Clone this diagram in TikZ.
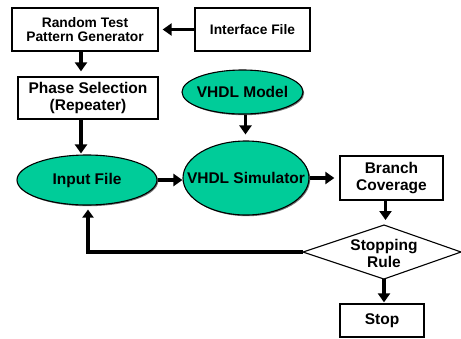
\documentclass[tikz,border=0pt]{standalone}
\usepackage{fontspec}
\setmainfont{Liberation Sans}
\usetikzlibrary{arrows.meta,shapes.geometric,calc,shadows}
\definecolor{teal1}{RGB}{0,204,153}
\begin{document}
\begin{tikzpicture}[x=1pt,y=-1pt,
  shd/.style={drop shadow={shadow xshift=1.2pt,shadow yshift=-1.2pt,fill=black!55,opacity=1}},
  box/.style={draw=black,line width=1.3pt,fill=white,rectangle,inner sep=0pt,align=center,shd,font=\bfseries\fontsize{15.5}{17}\selectfont},
  smallbox/.style={box,font=\bfseries\fontsize{13.8}{14.5}\selectfont},
  oval/.style={draw=black,line width=1.1pt,fill=teal1,ellipse,inner sep=0pt,shd},
  lbl/.style={align=center,inner sep=0pt,font=\bfseries\fontsize{15.5}{17}\selectfont},
  flow/.style={line width=3.8pt,-{Triangle[width=12pt,length=9pt]}},
]
\useasboundingbox (0,0) rectangle (461,338);
\node[smallbox,minimum width=146pt,minimum height=43pt] (rtp) at (85,29.5) {Random Test\\Pattern Generator};
\node[smallbox,minimum width=115pt,minimum height=43pt] (intf) at (252.5,29.5) {Interface File};
\node[box,minimum width=140pt,minimum height=42pt] (phase) at (88,98) {Phase Selection\\(Repeater)};
\node[oval,minimum width=121pt,minimum height=44pt,label={[lbl]center:VHDL Model}] (vmodel) at (242.5,92) {};
\node[oval,minimum width=140pt,minimum height=50pt,label={[lbl]center:Input File}] (input) at (87,180) {};
\node[oval,minimum width=126pt,minimum height=74pt,label={[lbl]center:VHDL Simulator}] (sim) at (246,178) {};
\node[box,minimum width=103pt,minimum height=44pt] (branch) at (391.5,178) {Branch\\Coverage};
\node[box,minimum width=84pt,minimum height=33pt] (stop) at (382,320.5) {Stop};
\coordinate (dl) at (303,252);
\coordinate (dt) at (384,225);
\coordinate (dr) at (461,252);
\coordinate (db) at (384,279);
\draw[line width=1.1pt,fill=white] (dl) -- (dt) -- (dr) -- (db) -- cycle;
\node[lbl] (rule) at (384,253) {Stopping\\Rule};
\draw[flow,shorten >=4pt] (intf.west) -- (intf.west -| rtp.east);
\draw[flow,shorten >=5pt] ([xshift=-4pt]rtp.south) -- ([xshift=-4pt]rtp.south |- phase.north);
\draw[flow,shorten >=1pt] ([xshift=-7pt]phase.south) -- ([xshift=-7pt]phase.south |- input.north);
\draw[flow,shorten >=6pt] ([xshift=3pt]vmodel.south) -- ([xshift=3pt]vmodel.south |- sim.north);
\draw[flow] (input.east) -- (input.east -| sim.west);
\draw[flow,shorten >=5pt] (sim.east) -- (sim.east -| branch.west);
\draw[flow,shorten >=5pt] ([xshift=-6pt]branch.south) -- ([xshift=-6pt]branch.south |- dt);
\draw[flow,shorten >=1pt] (db) -- (db |- stop.north);
\draw[line width=3.8pt,-{Triangle[width=11pt,length=8pt]},shorten >=4pt] (dl) -- ([xshift=1pt]dl -| input.south) -- ([xshift=1pt]input.south);
\end{tikzpicture}
\end{document}
